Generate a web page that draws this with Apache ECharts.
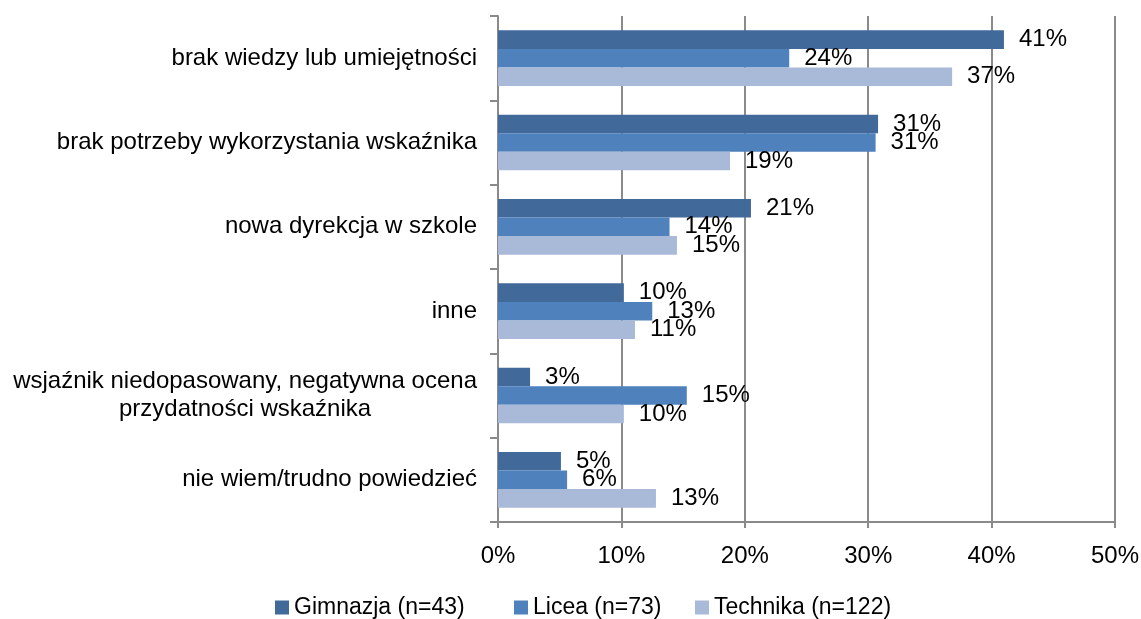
<!DOCTYPE html>
<html>
<head>
<meta charset="utf-8">
<script src="https://cdn.jsdelivr.net/npm/echarts@6/dist/echarts.min.js"></script>
<style>
  html, body { margin: 0; padding: 0; background: #fff; }
  #chart { width: 1141px; height: 619px; }
</style>
</head>
<body>
<div id="chart"></div>
<script>
const categories = [
    'brak wiedzy lub umiejętności',
    'brak potrzeby wykorzystania wskaźnika',
    'nowa dyrekcja w szkole',
    'inne',
    'wsjaźnik niedopasowany, negatywna ocena\nprzydatności wskaźnika',
    'nie wiem/trudno powiedzieć'
];
const seriesNames = ['Gimnazja (n=43)', 'Licea (n=73)', 'Technika (n=122)'];
const gimnazja = [41.0, 30.8, 20.5, 10.2, 2.6, 5.1];
const licea = [23.6, 30.6, 13.9, 12.5, 15.3, 5.6];
const technika = [36.8, 18.8, 14.5, 11.1, 10.2, 12.8];
const xTicks = [0, 10, 20, 30, 40, 50];

const colors = ['#41699a', '#4f81bd', '#a9b9d8'];
const legendLeft = [275, 514, 695];
const font = 'Liberation Sans, Arial, sans-serif';
const fs = 24;

const chart = echarts.init(document.getElementById('chart'));

function makeSeries(name, data, color) {
    return {
        name: name,
        type: 'bar',
        data: data,
        barGap: '0%',
        barCategoryGap: '34%',
        itemStyle: { color: color },
        label: {
            show: true,
            position: 'right',
            distance: 15,
            color: '#000',
            fontFamily: font,
            fontSize: fs,
            formatter: (p) => Math.round(p.value) + '%'
        }
    };
}

// one legend per item so each sits where the original put it
const legends = seriesNames.map((name, i) => ({
    data: [name],
    left: legendLeft[i],
    top: 596,
    padding: 0,
    icon: 'rect',
    itemWidth: 14,
    itemHeight: 14,
    itemGap: 0,
    textStyle: { fontFamily: font, fontSize: 23, color: '#000' }
}));

chart.setOption({
    animation: false,
    color: colors,
    grid: {
        left: 498,
        right: 26,
        top: 16,
        bottom: 97,
        outerBoundsMode: 'none'
    },
    legend: legends,
    xAxis: {
        type: 'value',
        min: xTicks[0],
        max: xTicks[xTicks.length - 1],
        interval: 10,
        axisLine: { show: true, lineStyle: { color: '#8a8a8a', width: 2 } },
        axisTick: { show: true, length: 6, lineStyle: { color: '#8a8a8a', width: 2 } },
        splitLine: { show: true, lineStyle: { color: '#8a8a8a', width: 2 } },
        axisLabel: {
            margin: 22,
            fontFamily: font,
            fontSize: fs,
            color: '#000',
            formatter: (v) => v + '%'
        }
    },
    yAxis: {
        type: 'category',
        data: categories,
        inverse: true,
        axisLine: { show: true, lineStyle: { color: '#8a8a8a', width: 2 } },
        axisTick: { show: true, inside: false, length: 8, lineStyle: { color: '#8a8a8a', width: 2 } },
        axisLabel: {
            margin: 21,
            fontFamily: font,
            fontSize: fs,
            color: '#000',
            lineHeight: 28,
            formatter: (v) => v.split('\n').map(s => '{c|' + s + '}').join('\n'),
            rich: {
                c: { align: 'center', fontFamily: font, fontSize: fs, color: '#000', lineHeight: 28 }
            }
        }
    },
    series: [
        makeSeries(seriesNames[0], gimnazja, colors[0]),
        makeSeries(seriesNames[1], licea, colors[1]),
        makeSeries(seriesNames[2], technika, colors[2])
    ]
});
</script>
</body>
</html>
